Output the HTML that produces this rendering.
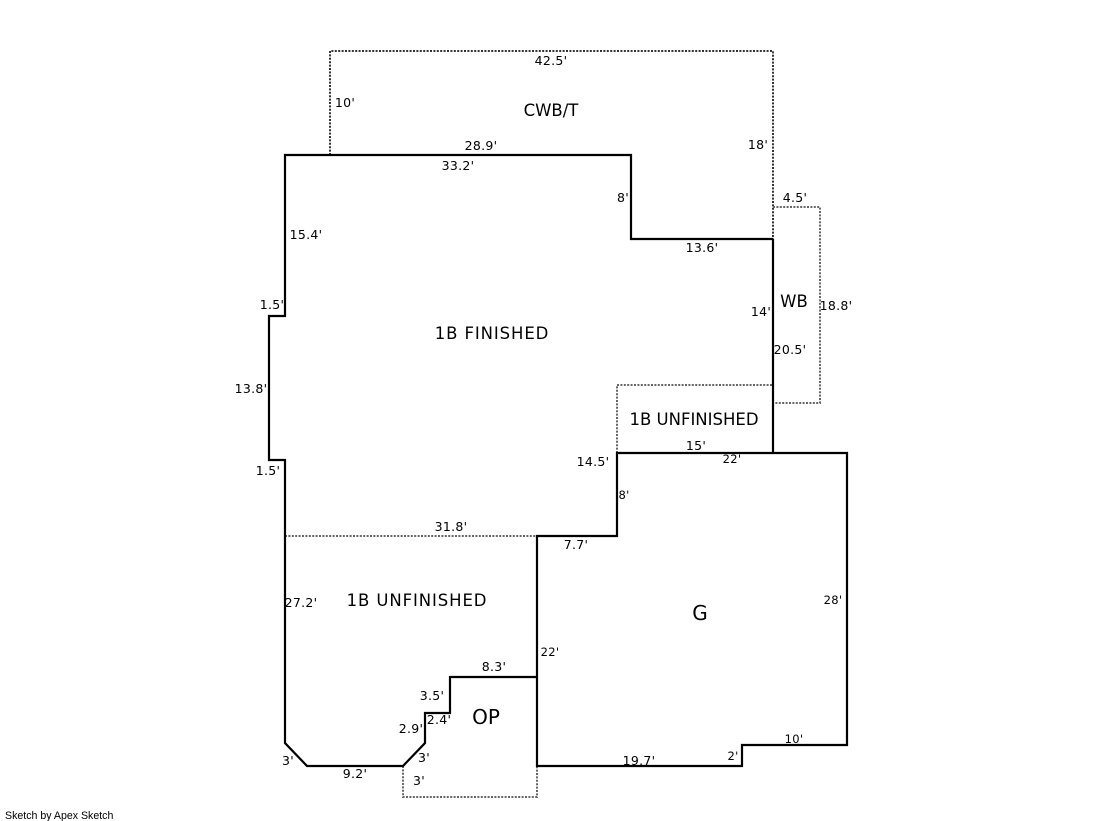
<!DOCTYPE html>
<html>
<head>
<meta charset="utf-8">
<style>
html,body{margin:0;padding:0;background:#fff;width:1119px;height:821px;overflow:hidden}
svg{display:block}
text{font-family:"DejaVu Sans","Liberation Sans",sans-serif;fill:#000;text-anchor:middle}
.d{font-size:12.5px;letter-spacing:.3px}
.l{font-size:16.5px}
.w{letter-spacing:.9px}
.b{font-size:20px}
.s{font-size:10.6px;text-anchor:start;font-family:"Liberation Sans",sans-serif}
.h{fill:none;stroke:#000;stroke-width:2.2}
.o{fill:none;stroke:#666;stroke-width:2;stroke-dasharray:2 1.4}
.c{stroke:#333}
</style>
</head>
<body>
<svg width="1119" height="821" viewBox="0 0 1119 821" xmlns="http://www.w3.org/2000/svg">
<path class="o c" d="M330 155V51H773V239"/>
<path class="o" d="M773 207H820V403H773"/>
<path class="o" d="M617 453V385H773"/>
<path class="o" d="M285 536H537"/>
<path class="o" d="M403 766V797H537V766"/>
<path class="h" d="M773 239H631V155H285V316H269V460H285V743L307 766H403L425 743V713H450V677H537"/>
<path class="h" d="M773 239V453"/>
<path class="h" d="M617 453H847V745H742V766H537V536H617Z"/>
<text class="l" x="551" y="116">CWB/T</text>
<text class="l w" x="492" y="339">1B FINISHED</text>
<text class="l" x="794" y="307">WB</text>
<text class="l" x="694" y="425">1B UNFINISHED</text>
<text class="l w" x="417" y="606">1B UNFINISHED</text>
<text class="b" x="700" y="620">G</text>
<text class="l" x="486" y="724" style="font-size:20px">OP</text>
<text class="d" x="551" y="65">42.5'</text>
<text class="d" x="345" y="107">10'</text>
<text class="d" x="758" y="149">18'</text>
<text class="d" x="481" y="150">28.9'</text>
<text class="d" x="458" y="170">33.2'</text>
<text class="d" x="623" y="202">8'</text>
<text class="d" x="795" y="202">4.5'</text>
<text class="d" x="702" y="252">13.6'</text>
<text class="d" x="306" y="239">15.4'</text>
<text class="d" x="272" y="309">1.5'</text>
<text class="d" x="761" y="316">14'</text>
<text class="d" x="836" y="310">18.8'</text>
<text class="d" x="790" y="354">20.5'</text>
<text class="d" x="251" y="393">13.8'</text>
<text class="d" x="696" y="450">15'</text>
<text class="d" x="732" y="463" style="font-size:11.5px">22'</text>
<text class="d" x="593" y="466">14.5'</text>
<text class="d" x="268" y="475">1.5'</text>
<text class="d" x="624" y="499" style="font-size:11.5px">8'</text>
<text class="d" x="451" y="531">31.8'</text>
<text class="d" x="576" y="549">7.7'</text>
<text class="d" x="301" y="607">27.2'</text>
<text class="d" x="833" y="604" style="font-size:11.5px">28'</text>
<text class="d" x="550" y="656" style="font-size:11.5px">22'</text>
<text class="d" x="494" y="671">8.3'</text>
<text class="d" x="432" y="700">3.5'</text>
<text class="d" x="439" y="724">2.4'</text>
<text class="d" x="411" y="733">2.9'</text>
<text class="d" x="424" y="762">3'</text>
<text class="d" x="288" y="765">3'</text>
<text class="d" x="355" y="778">9.2'</text>
<text class="d" x="419" y="785">3'</text>
<text class="d" x="639" y="765">19.7'</text>
<text class="d" x="733" y="760" style="font-size:11.5px">2'</text>
<text class="d" x="794" y="743" style="font-size:11.5px">10'</text>
<text class="s" x="5" y="819">Sketch by Apex Sketch</text>
</svg>
</body>
</html>
